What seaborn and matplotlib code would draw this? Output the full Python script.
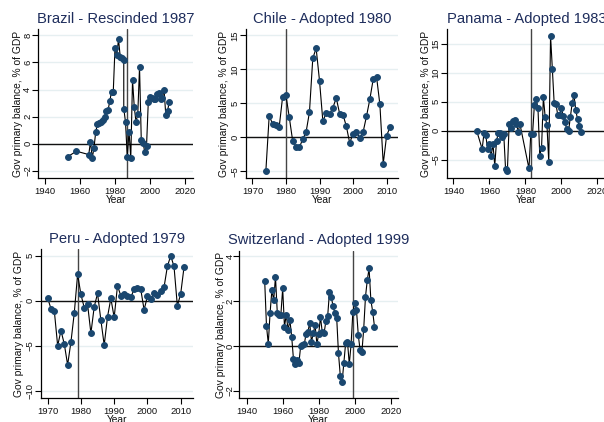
import matplotlib
matplotlib.use('Agg')
import matplotlib.pyplot as plt
import seaborn as sns
import pandas as pd

sns.set_style('white')
plt.rcParams['font.family'] = ['Liberation Sans', 'DejaVu Sans']

# ---------------- data ----------------
brazil_years = [1953, 1958, 1965, 1966, 1967, 1968, 1969, 1970, 1971, 1972, 1973, 1974,
                1975, 1976, 1977, 1978, 1979, 1980, 1981, 1982, 1983, 1984, 1985, 1985,
                1986, 1987, 1988, 1989, 1990, 1991, 1992, 1993, 1994, 1995, 1996, 1997,
                1998, 1999, 2000, 2001, 2002, 2003, 2004, 2005, 2006, 2007, 2008, 2009,
                2010, 2011]
brazil_vals = [-0.95, -0.55, -0.8, 0.15, -1.05, -0.3, 0.9, 1.45, 1.5, 1.6, 1.72, 1.95,
               2.45, 2.47, 3.13, 3.84, 3.84, 7.1, 6.55, 7.7, 6.4, 6.3, 6.2, 2.6,
               1.6, -1.0, 0.9, -1.05, 4.7, 2.7, 1.6, 2.2, 5.65, 0.25, 0.05, -0.6,
               -0.15, 3.08, 3.47, 3.4, 3.3, 3.3, 3.7, 3.75, 3.3, 3.4, 4.0, 2.1,
               2.45, 3.08]

chile_years = list(range(1974, 2012))
chile_vals = [-5.0, 3.15, 2.05, 1.9, 1.6, 5.95, 6.2, 2.95, -0.5, -1.35, -1.45, -0.25,
              0.8, 3.7, 11.65, 13.1, 8.35, 2.4, 3.6, 3.45, 4.4, 5.8, 3.5, 3.35, 1.65,
              -0.8, 0.55, 0.75, -0.05, 0.8, 3.1, 5.6, 8.55, 8.95, 4.85, -3.85, 0.25, 1.5]

panama_years = [1953] + list(range(1956, 1978)) + list(range(1982, 2012))
panama_vals = [-0.05, -3.15, -0.45, -0.75, -3.15, -2.3, -4.35, -2.3, -6.0, -1.7, -0.35,
               -0.4, -1.0, -0.6, -6.6, -6.95, 1.1, 0.5, 1.65, 1.85, 1.25, -0.15, 1.15,
               -6.5, -0.6, -0.55, 4.4, 5.45, 3.95, -4.3, -2.9, 5.8, 2.4, 1.0, -5.45,
               16.4, 10.6, 4.8, 4.65, 2.7, 2.8, 3.95, 2.6, 1.45, 0.25, -0.05, 2.35,
               4.75, 6.15, 3.6, 1.95, 0.75, -0.3]

peru_years = list(range(1970, 2012))
peru_vals = [0.3, -0.9, -1.14, -4.98, -3.3, -4.8, -7.1, -4.55, -1.35, 2.92,
             0.7, -0.77, -0.4, -3.6, -0.66, 0.81, -2.14, -4.9, -1.77, 0.26,
             -1.84, 1.66, 0.55, 0.7, 0.55, 0.37, 1.3, 1.37, 1.26, -1.0,
             0.48, 0.22, 0.85, 0.59, 1.03, 1.5, 3.8, 4.98, 3.8, -0.55,
             0.74, 3.7]

swiss_years = list(range(1950, 2012))
swiss_vals = [2.9, 0.9, 0.1, 1.47, 2.49, 2.03, 3.08, 1.48, 1.38, 1.4,
              2.56, 0.85, 1.4, 0.7, 1.15, 0.42, -0.6, -0.8, -0.63, -0.77,
              0.0, 0.04, 0.07, 0.55, 0.6, 1.04, 0.19, 0.56, 0.93, 0.09,
              0.52, 1.29, 0.6, 0.56, 1.11, 1.33, 2.41, 2.16, 1.78, 1.45,
              1.26, -0.33, -1.32, -1.61, -0.74, 0.15, 0.19, -0.81, 0.07, 1.53,
              1.9, 1.6, 0.49, -0.18, -0.28, 0.74, 2.19, 2.93, 3.45, 2.03,
              1.53, 0.86]

titles = ['Brazil - Rescinded 1987', 'Chile - Adopted 1980', 'Panama - Adopted 1983',
          'Peru - Adopted 1979', 'Switzerland - Adopted 1999']
event_years = [1987, 1980, 1983, 1979, 1999]
y_label = 'Gov primary balance, % of GDP'
x_label = 'Year'

# ---------------- layout ----------------
W, H = 604, 422
NAVY = '#1a476f'
TITLE_C = '#1e2d5c'
GRID_C = '#e6eff1'

fig = plt.figure(figsize=(W / 100, H / 100), dpi=100)
fig.patch.set_facecolor('white')

panels = [
    dict(years=brazil_years, vals=brazil_vals, box=(38.3, 193.3, 29.3, 178.3),
         xlim=(1936.2, 2024.7), xt=range(1940, 2021, 20), ylim=(-2.55, 8.45), yt=range(-2, 9, 2),
         ypad=0.4, ylab=20.3),
    dict(years=chile_years, vals=chile_vals, box=(245.7, 398.0, 29.3, 178.3),
         xlim=(1968.0, 2013.4), xt=range(1970, 2011, 10), ylim=(-6.0, 15.9), yt=range(-5, 16, 5),
         ypad=0.6, ylab=21.5),
    dict(years=panama_years, vals=panama_vals, box=(446.7, 606.0, 29.3, 178.3),
         xlim=(1936.3, 2024.8), xt=range(1940, 2021, 20), ylim=(-8.2, 17.5), yt=range(-5, 16, 5),
         ypad=0.4, ylab=21.0),
    dict(years=peru_years, vals=peru_vals, box=(40.7, 193.3, 249.3, 398.3),
         xlim=(1967.9, 2013.8), xt=range(1970, 2011, 10), ylim=(-10.8, 5.7), yt=range(-10, 6, 5),
         ypad=0.6, ylab=22.0),
    dict(years=swiss_years, vals=swiss_vals, box=(239.3, 397.7, 250.7, 398.3),
         xlim=(1935.9, 2023.9), xt=range(1940, 2021, 20), ylim=(-2.33, 4.24), yt=range(-2, 5, 2),
         ypad=-0.8, ylab=18.6),
]

for p, title, ev in zip(panels, titles, event_years):
    l, r, t, b = p['box']
    ax = fig.add_axes([l / W, 1 - b / H, (r - l) / W, (b - t) / H])
    df = pd.DataFrame({'Year': p['years'], 'Balance': p['vals']})
    ax.set_yticks(list(p['yt']))
    ax.grid(axis='y', color=GRID_C, linewidth=1.0)
    ax.grid(axis='x', visible=False)
    ax.set_axisbelow(True)
    ax.axhline(0, color='#111111', linewidth=1.0, zorder=2)
    ax.axvline(ev, color='#444444', linewidth=1.0, zorder=2)
    sns.lineplot(data=df, x='Year', y='Balance', estimator=None, sort=False, ax=ax,
                 color='black', linewidth=0.8, marker='o', markersize=4.2,
                 markerfacecolor=NAVY, markeredgecolor=NAVY, zorder=3)
    ax.set_xlim(*p['xlim'])
    ax.set_ylim(*p['ylim'])
    ax.set_xticks(list(p['xt']))
    for s in ['top', 'right']:
        ax.spines[s].set_visible(False)
    for s in ['left', 'bottom']:
        ax.spines[s].set_color('black')
        ax.spines[s].set_linewidth(0.9)
    ax.tick_params(axis='both', direction='out', length=4, width=0.8, color='black',
                   labelsize=6.8, labelcolor='#111111', left=True, bottom=True)
    ax.tick_params(axis='x', pad=2.5)
    ax.tick_params(axis='y', pad=p['ypad'], labelrotation=90)
    for lab in ax.get_yticklabels():
        lab.set_va('center')
    ax.set_ylabel(y_label, fontsize=7.4, color='#111111')
    ax.yaxis.label.set_va('center')
    ax.yaxis.set_label_coords(-p['ylab'] / (r - l), 0.5)
    ax.set_xlabel(x_label, fontsize=7.4, color='#111111', labelpad=-1.0)
    ax.set_title(title, fontsize=10.6, color=TITLE_C, pad=4.5)

fig.savefig('out.png', dpi=100, facecolor='white')
